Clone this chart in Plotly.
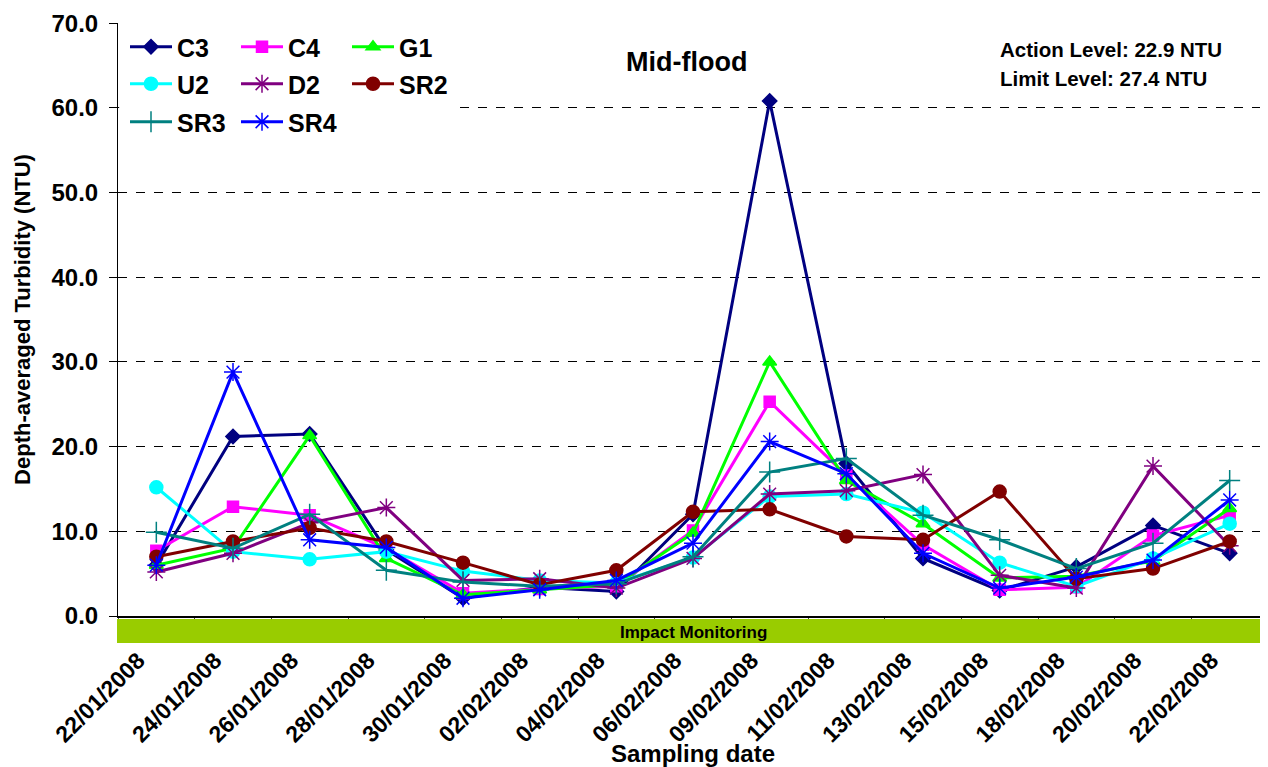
import plotly.graph_objects as go

dates = ["22/01/2008", "24/01/2008", "26/01/2008", "28/01/2008", "30/01/2008",
         "02/02/2008", "04/02/2008", "06/02/2008", "09/02/2008", "11/02/2008",
         "13/02/2008", "15/02/2008", "18/02/2008", "20/02/2008", "22/02/2008"]

C3 = [6.0, 21.2, 21.5, 7.8, 2.1, 3.4, 2.9, 12.0, 60.8, 18.0, 6.8, 3.0, 5.8, 10.7, 7.4]
C4 = [7.7, 12.9, 11.9, 8.0, 2.7, 3.2, 3.5, 10.1, 25.3, 16.6, 8.4, 3.1, 3.4, 9.5, 11.9]
G1 = [6.0, 8.0, 21.3, 6.8, 2.5, 3.1, 3.7, 9.8, 30.0, 16.0, 10.9, 4.5, 4.7, 6.5, 12.7]
U2 = [15.2, 7.6, 6.7, 7.6, 5.3, 4.2, 3.9, 6.9, 14.1, 14.4, 12.2, 6.3, 3.5, 6.8, 10.9]
D2 = [5.2, 7.4, 11.0, 12.8, 4.2, 4.4, 3.3, 6.8, 14.4, 14.8, 16.7, 4.8, 3.3, 17.7, 8.3]
SR2 = [7.0, 8.8, 10.4, 8.8, 6.3, 3.7, 5.4, 12.3, 12.6, 9.4, 9.0, 14.7, 4.4, 5.6, 8.8]
SR3 = [9.9, 8.0, 12.0, 5.4, 4.0, 3.5, 3.8, 7.0, 17.0, 18.6, 11.9, 9.0, 5.6, 8.6, 16.0]
SR4 = [6.0, 28.8, 9.0, 8.1, 2.1, 3.1, 4.2, 8.6, 20.6, 16.8, 7.4, 3.3, 4.6, 6.6, 13.7]

y_ticks = [0, 10, 20, 30, 40, 50, 60, 70]

FONT = "Liberation Sans, Arial, sans-serif"

series = [
    ("C3", C3, "#000080", "diamond", 11, "legend"),
    ("C4", C4, "#FF00FF", "square", 11, "legend"),
    ("G1", G1, "#00FF00", "triangle-up", 12, "legend"),
    ("U2", U2, "#00FFFF", "circle", 13, "legend2"),
    ("D2", D2, "#800080", "asterisk-open", 15, "legend2"),
    ("SR2", SR2, "#800000", "circle", 13, "legend2"),
    ("SR3", SR3, "#008080", "cross-thin-open", 15, "legend3"),
    ("SR4", SR4, "#0000FF", "asterisk-open", 15, "legend3"),
]

fig = go.Figure()
for name, vals, color, sym, size, leg in series:
    fig.add_trace(go.Scatter(
        x=dates, y=vals, name=name, mode="lines+markers",
        line=dict(color=color, width=3),
        marker=dict(symbol=sym, size=size, color=color,
                    line=dict(color=color, width=1.5)),
        legend=leg,
    ))

OFF = 8  # page body margin
W, H = 1268 - OFF, 767 - OFF
L, R, T, B = 118 - OFF, 0, 23 - OFF, 151
pw = W - L - R
ph = H - T - B

def px(x):
    # screen x -> paper x
    return (x - OFF - L) / pw

def py(y):
    # screen y -> paper y
    return (T + ph - (y - OFF)) / ph

legend_common = dict(orientation="h", entrywidth=54, entrywidthmode="pixels",
                     bgcolor="rgba(0,0,0,0)", borderwidth=0,
                     font=dict(family=FONT, size=25, color="black", weight="bold"),
                     xanchor="left", yanchor="middle", itemwidth=42)

NB = "\u00a0" * 4
tick_text = [d + NB for d in dates]

fig.update_layout(
    width=W, height=H,
    margin=dict(l=L, r=R, t=T, b=B, autoexpand=False),
    paper_bgcolor="white", plot_bgcolor="white",
    font=dict(family=FONT, color="black"),
    legend=dict(x=px(125), y=py(47), **legend_common),
    legend2=dict(x=px(125), y=py(84), **legend_common),
    legend3=dict(x=px(125), y=py(122), **legend_common),
    xaxis=dict(
        type="category", range=[-0.5, len(dates) - 0.5],
        tickmode="array", tickvals=dates, ticktext=tick_text,
        tickson="boundaries", ticks="outside", ticklen=3, tickcolor="#444",
        showline=True, linecolor="black", linewidth=2,
        showgrid=False, tickangle=-45, ticklabelstandoff=2,
        tickfont=dict(family=FONT, size=23, color="black", weight="bold"),
        title=dict(text="Sampling date", standoff=0,
                   font=dict(family=FONT, size=24, color="black", weight="bold")),
        automargin=False,
    ),
    yaxis=dict(
        range=[0, 70.02], tickvals=y_ticks, tickformat=".1f",
        ticks="outside", ticklen=8, tickcolor="black", ticklabelstandoff=6,
        showline=True, linecolor="black", linewidth=1,
        showgrid=True, gridcolor="black", griddash="dash", gridwidth=1,
        zeroline=False,
        tickfont=dict(family=FONT, size=24, color="black", weight="bold"),
        title=dict(text="Depth-averaged Turbidity (NTU)", standoff=14,
                   font=dict(family=FONT, size=22, color="black", weight="bold")),
        automargin=False,
    ),
    shapes=[
        dict(type="rect", xref="paper", yref="paper", x0=px(117), x1=1,
             y0=py(619), y1=py(643), fillcolor="#99CC00", line=dict(width=0),
             layer="above"),
        dict(type="rect", xref="paper", yref="paper", x0=0.001, x1=px(455),
             y0=py(141), y1=py(25), fillcolor="white", line=dict(width=0),
             layer="above"),
    ],
    annotations=[
        dict(text="Impact Monitoring", xref="paper", yref="paper",
             x=px(693), y=py(632), xanchor="center", yanchor="middle",
             showarrow=False,
             font=dict(family=FONT, size=17, color="black", weight="bold")),
        dict(text="Mid-flood", xref="paper", yref="paper",
             x=px(686), y=py(62), xanchor="center", yanchor="middle",
             showarrow=False,
             font=dict(family=FONT, size=27, color="black", weight="bold")),
        dict(text="Action Level: 22.9 NTU", xref="paper", yref="paper",
             x=px(998), y=py(50), xanchor="left", yanchor="middle",
             showarrow=False,
             font=dict(family=FONT, size=20.5, color="black", weight="bold")),
        dict(text="Limit Level: 27.4 NTU", xref="paper", yref="paper",
             x=px(998), y=py(78), xanchor="left", yanchor="middle",
             showarrow=False,
             font=dict(family=FONT, size=20.5, color="black", weight="bold")),
    ],
)

fig.write_html("out.html")
